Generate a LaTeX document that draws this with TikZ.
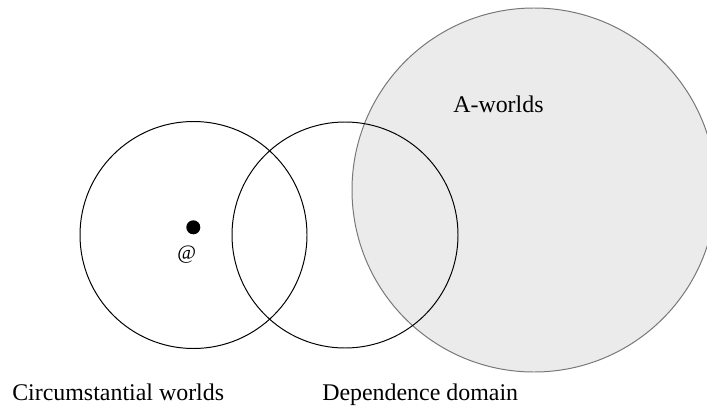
\documentclass[tikz,border=0pt]{standalone}
\usepackage{fontspec}
\setmainfont{Liberation Serif}

\definecolor{afill}{HTML}{EBEBEB}
\definecolor{aedge}{HTML}{777777}

\tikzset{
  worldset/.style={draw=black, line width=0.7pt},
  lbl/.style={font=\fontsize{17}{20}\selectfont, inner sep=0pt, anchor=base west},
}

\begin{document}
\begin{tikzpicture}[x=0.025cm,y=-0.025cm]

% frame
\useasboundingbox (0,0) rectangle (707,413);
\clip (0,0) rectangle (707,413);

% A-worlds
\filldraw[fill=afill, draw=aedge, line width=0.7pt] (534,190) circle[radius=182];
\node[lbl] (aw) at (453,112.5) {A-worlds};

% circumstantial worlds
\draw[worldset] (193.5,235) circle[radius=113.5];
\node[lbl] (cw) at (12,400) {Circumstantial worlds};

% dependence domain
\draw[worldset] (345,235) circle[radius=113];
\node[lbl] (dd) at (322,400) {Dependence domain};

% actual world
\coordinate (at) at (193.3,227.3);
\fill (at) circle[radius=7];
\node[font=\fontsize{14.5}{16}\selectfont, inner sep=0pt] (atl) at (186.7,255) {@};

\end{tikzpicture}
\end{document}
